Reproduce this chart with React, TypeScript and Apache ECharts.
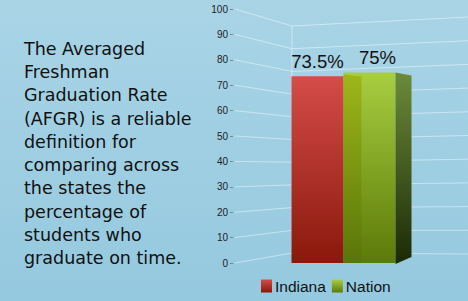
import React, { useEffect, useRef } from "react";
import * as echarts from "echarts";

const categories = ["AFGR"];
const indianaValues = [73.5];
const nationValues = [75];
const yTicks = [0, 10, 20, 30, 40, 50, 60, 70, 80, 90, 100];
const seriesNames = ["Indiana", "Nation"];
const introLines = [
  "The Averaged",
  "Freshman",
  "Graduation Rate",
  "(AFGR) is a reliable",
  "definition for",
  "comparing across",
  "the states the",
  "percentage of",
  "students who",
  "graduate on time.",
];

const NARROW = "'Liberation Sans Narrow', 'Arial Narrow', 'Liberation Sans', sans-serif";
const BAR_W = 52;

export default function App() {
  const ref = useRef<HTMLDivElement>(null);
  useEffect(() => {
    if (!ref.current) return;
    const chart = echarts.init(ref.current, undefined, { renderer: "svg" });
    const lg = (c0: string, c1: string) =>
      new echarts.graphic.LinearGradient(0, 0, 0, 1, [
        { offset: 0, color: c0 },
        { offset: 1, color: c1 },
      ]);
    chart.setOption({
      animation: false,
      backgroundColor: lg("#a9d4e6", "#95c9df"),
      grid: { left: 233, right: 14, top: 9, bottom: 38, containLabel: false },
      legend: {
        bottom: 2,
        left: 256,
        itemWidth: 11,
        itemHeight: 13,
        itemGap: 6,
        icon: "rect",
        data: seriesNames,
        textStyle: { fontFamily: NARROW, fontSize: 15.5, color: "#111", padding: [0, 0, 0, -2] },
      },
      xAxis: {
        type: "category",
        data: categories,
        show: false,
      },
      yAxis: {
        type: "value",
        min: 0,
        max: 100,
        interval: 10,
        axisLine: { show: false },
        axisTick: { show: true, length: 3, lineStyle: { color: "#6a8a98" } },
        splitLine: { show: false },
        axisLabel: { fontFamily: NARROW, fontSize: 10, color: "#222", margin: 5 },
      },
      graphic: [
        {
          type: "text",
          left: 24,
          top: 37,
          style: {
            text: introLines.join("\n"),
            fontFamily: "'DejaVu Sans', sans-serif",
            fontSize: 17.5,
            lineHeight: 23.3,
            fill: "#111",
          },
        },
      ],
      series: [
        {
          type: "custom",
          name: "grid",
          z: 1,
          silent: true,
          data: yTicks.map((v) => [0, v]),
          renderItem: (params: any, api: any) => {
            const v = api.value(1);
            const p = api.coord([0, v]);
            const y0 = api.coord([0, 0])[1];
            const y100 = api.coord([0, 100])[1];
            const left = params.coordSys.x;
            const right = params.coordSys.x + params.coordSys.width + 14;
            const backX = left + 59;
            const yb = y0 - 10 + (v / 100) * (y100 + 17 - (y0 - 10));
            const yr = y0 - 9 + (v / 100) * (y100 + 8 - (y0 - 9));
            const children: any[] = [
              {
                type: "polyline",
                shape: { points: [[left + 2, p[1]], [backX, yb], [right, yr]] },
                style: { stroke: "rgba(255,255,255,0.45)", lineWidth: 1, fill: "none" },
              },
            ];
            if (v === 100) {
              children.push({
                type: "line",
                shape: { x1: backX, y1: yb, x2: backX, y2: y0 - 10 },
                style: { stroke: "rgba(255,255,255,0.45)", lineWidth: 1 },
              });
            }
            return { type: "group", children };
          },
        },
        {
          type: "bar",
          name: "Indiana",
          z: 3,
          data: indianaValues,
          barWidth: BAR_W,
          barGap: "0%",
          itemStyle: { color: lg("#d54c48", "#8a180b") },
          label: {
            show: true,
            position: "top",
            distance: 5,
            formatter: "{c}%",
            fontFamily: NARROW,
            fontSize: 18.5,
            color: "#111",
          },
        },
        {
          type: "bar",
          name: "Nation",
          z: 2,
          data: nationValues,
          barWidth: BAR_W,
          barGap: "0%",
          itemStyle: { color: lg("#a8ce40", "#5b7a08") },
          label: {
            show: true,
            position: "top",
            distance: 6,
            offset: [8, 0],
            formatter: "{c}%",
            fontFamily: NARROW,
            fontSize: 18.5,
            color: "#111",
          },
        },
        {
          type: "custom",
          name: "nationSide",
          z: 4,
          silent: true,
          data: nationValues.map((v) => [0, v]),
          renderItem: (params: any, api: any) => {
            const top = api.coord([0, api.value(1)]);
            const base = api.coord([0, 0]);
            const cx = top[0];
            const xr = cx + BAR_W;
            const depth = 16;
            return {
              type: "group",
              children: [
                {
                  type: "polygon",
                  shape: {
                    points: [
                      [xr, top[1]],
                      [xr + depth, top[1] + 3],
                      [xr + depth, base[1] - 6],
                      [xr, base[1] + 1],
                    ],
                  },
                  style: { fill: lg("#6c8b3a", "#1b2a06") },
                },
                {
                  type: "polygon",
                  shape: {
                    points: [
                      [cx, top[1] + 2],
                      [cx + 18, top[1] + 4],
                      [cx + 18, base[1]],
                      [cx, base[1]],
                    ],
                  },
                  style: { fill: lg("#9db416", "#587508"), opacity: 0.9 },
                },
              ],
            };
          },
        },
      ],
    });
    return () => chart.dispose();
  }, []);
  return <div ref={ref} style={{ width: 468, height: 301, position: "fixed", left: 0, top: 0 }} />;
}
